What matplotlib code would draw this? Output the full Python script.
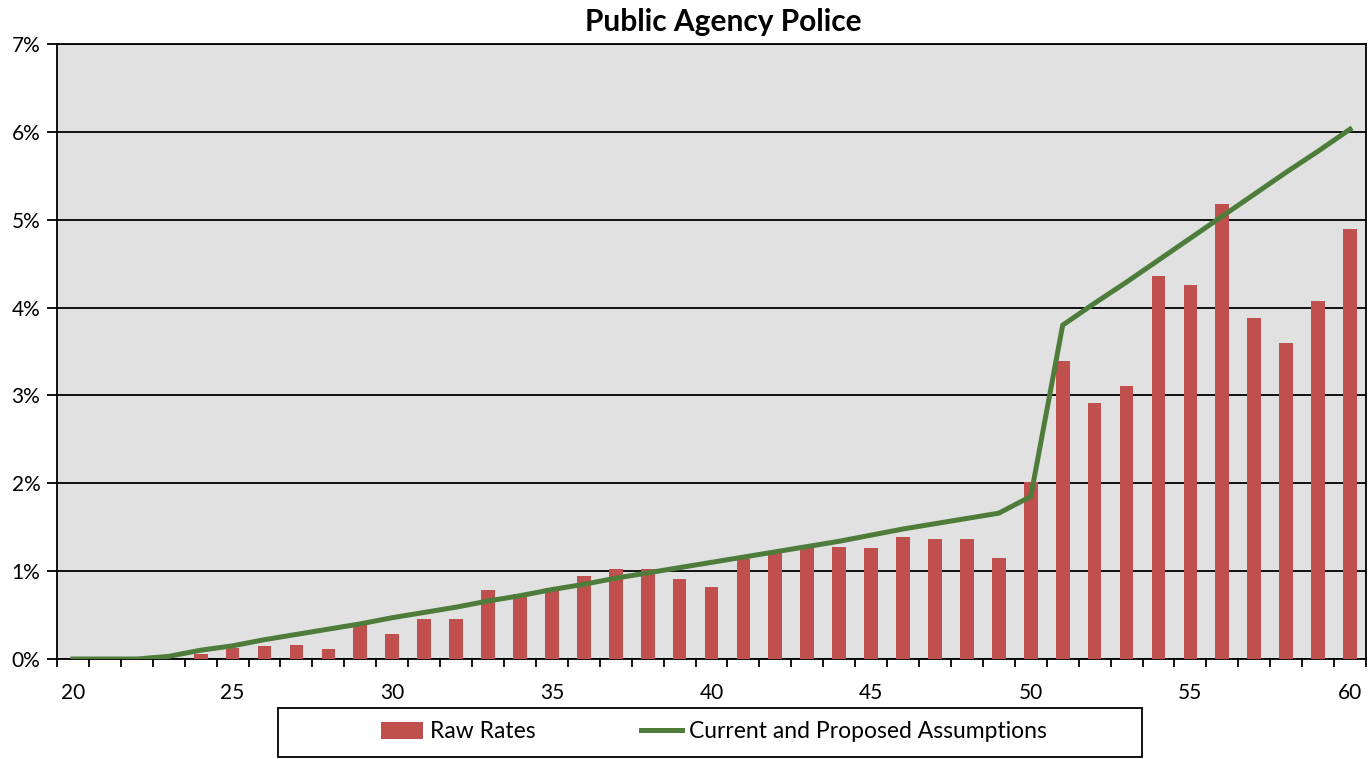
import matplotlib
matplotlib.use("Agg")
import matplotlib.pyplot as plt
from matplotlib.ticker import FuncFormatter, MultipleLocator, FixedLocator
from matplotlib.patches import Patch, Rectangle
from matplotlib.lines import Line2D

plt.rcParams['font.family'] = ['Lato', 'DejaVu Sans']

ages = list(range(20, 61))
raw_rates = [0.0, 0.0, 0.0, 0.0, 0.06, 0.13, 0.145, 0.16, 0.11, 0.40,
             0.285, 0.46, 0.46, 0.78, 0.74, 0.81, 0.94, 1.03, 1.03, 0.91,
             0.82, 1.14, 1.21, 1.28, 1.28, 1.26, 1.39, 1.37, 1.37, 1.15,
             2.02, 3.39, 2.91, 3.11, 4.36, 4.26, 5.18, 3.88, 3.60, 4.08, 4.89]
assumptions = [0.0, 0.0, 0.0, 0.03, 0.10, 0.15, 0.22, 0.28, 0.34, 0.40,
               0.47, 0.53, 0.59, 0.66, 0.72, 0.79, 0.85, 0.92, 0.98, 1.04,
               1.10, 1.16, 1.22, 1.28, 1.34, 1.41, 1.48, 1.54, 1.60, 1.66,
               1.85, 3.80, 4.05, 4.29, 4.54, 4.79, 5.04, 5.29, 5.54, 5.78, 6.03]
x_labels = [20, 25, 30, 35, 40, 45, 50, 55, 60]
title = "Public Agency Police"

bar_color = "#C0504D"
line_color = "#4E7D3B"

W, H = 1372, 759
fig = plt.figure(figsize=(W/100, H/100), dpi=100)
ax = fig.add_axes([57/W, 1-659/H, (1366-57)/W, (659-44)/H])
ax.set_facecolor("#E1E1E1")

ax.bar(ages, raw_rates, width=0.43, color=bar_color, zorder=3)
ax.plot(ages, assumptions, color=line_color, lw=3.6, zorder=4)

ax.set_xlim(19.5, 60.5)
ax.set_ylim(0, 7)
ax.yaxis.set_major_locator(MultipleLocator(1))
ax.yaxis.set_major_formatter(FuncFormatter(lambda v, p: f"{int(round(v))}%"))
ax.grid(axis='y', color='black', lw=1.3, zorder=1)

ax.set_xticks(x_labels)
ax.set_xticklabels([str(v) for v in x_labels])
ax.tick_params(axis='x', which='major', length=0, labelsize=15, pad=17)
ax.xaxis.set_minor_locator(FixedLocator([a + 0.5 for a in range(19, 61)]))
ax.tick_params(axis='x', which='minor', length=6, width=1.3, direction='out')
ax.tick_params(axis='y', length=7, width=1.3, labelsize=15, pad=5)

for s in ax.spines.values():
    s.set_color('black')
    s.set_linewidth(1.3)

fig.text(723/W, 1-22/H, title, ha='center', va='center',
         fontsize=21.5, fontweight='bold')

# legend box
fig.patches.append(Rectangle((278/W, 1-757/H), (1142-278)/W, (757-708)/H,
                             transform=fig.transFigure, fill=False,
                             edgecolor='black', lw=1.3))

handles = [Patch(facecolor=bar_color, edgecolor='none'),
           Line2D([0], [0], color=line_color, lw=3.6)]
labels = ["Raw Rates", "Current and Proposed Assumptions"]
leg = fig.legend(handles, labels, loc='center',
                 bbox_to_anchor=(714/W, 1-732/H), ncol=2,
                 frameon=False, fontsize=16.5, handlelength=1.8,
                 handletextpad=0.3, columnspacing=4.6)

fig.savefig("out.png", dpi=100)
